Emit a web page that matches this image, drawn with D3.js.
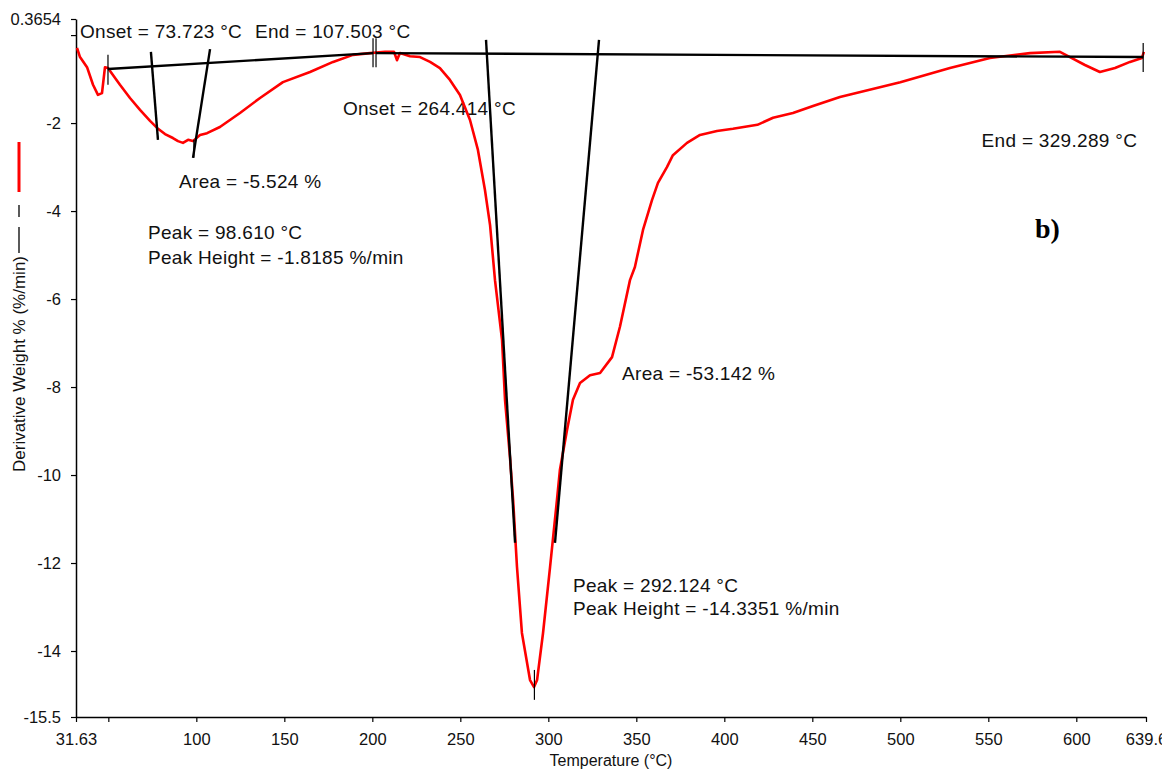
<!DOCTYPE html>
<html>
<head>
<meta charset="utf-8">
<script src="https://cdnjs.cloudflare.com/ajax/libs/d3/7.8.5/d3.min.js"></script>
<style>
body { margin: 0; background: #fff; }
svg { display: block; font-family: "Liberation Sans", Arial, sans-serif; }
</style>
</head>
<body>
<svg id="chart" width="1162" height="772"></svg>
<script>
// DTG curve: temperature (°C) and derivative weight (%/min)
var tempC = [32.2, 33.9, 37.9, 41.3, 44.1, 46.4, 48.1, 49.8, 52.1, 56.6, 62.3, 68.0, 73.7, 77.7, 82.2,
    86.7, 89.6, 92.4, 95.3, 98.1, 102.1, 106.1, 113.4, 124.8, 136.2, 149.2, 164.6, 177.7, 189.0, 198.7,
    207.2, 212.3, 214.0, 215.7, 221.4, 227.1, 232.8, 238.4, 244.1, 249.8, 255.5, 260.0, 264.0, 266.9,
    269.7, 273.7, 275.4, 278.2, 280.0, 282.2, 285.0, 289.6, 291.9, 293.6, 297.0, 301.0, 304.9, 306.6,
    310.6, 314.0, 318.0, 323.7, 329.4, 336.2, 340.7, 346.4, 349.2, 353.8, 358.9, 362.3, 367.4, 370.8,
    378.8, 386.2, 395.8, 404.9, 418.8, 427.7, 439.0, 450.4, 465.7, 500.0, 528.2, 550.9, 573.7, 590.7,
    596.4, 604.9, 613.4, 622.0, 630.5, 637.3, 638.4];
var derivW = [-0.29, -0.50, -0.73, -1.13, -1.36, -1.32, -0.73, -0.75, -0.88, -1.13, -1.43, -1.70, -1.95, -2.11, -2.25,
    -2.34, -2.41, -2.45, -2.38, -2.41, -2.27, -2.23, -2.09, -1.77, -1.43, -1.07, -0.84, -0.61, -0.45, -0.41,
    -0.38, -0.38, -0.57, -0.41, -0.48, -0.50, -0.61, -0.75, -1.02, -1.36, -1.93, -2.61, -3.52, -4.32,
    -5.57, -6.93, -8.29, -9.59, -10.57, -12.09, -13.59, -14.66, -14.82, -14.66, -13.59, -12.09, -10.57, -9.88,
    -8.98, -8.29, -7.91, -7.73, -7.68, -7.32, -6.63, -5.57, -5.27, -4.43, -3.75, -3.36, -3.00, -2.73,
    -2.45, -2.27, -2.18, -2.13, -2.04, -1.88, -1.77, -1.61, -1.41, -1.07, -0.75, -0.52, -0.41, -0.38,
    -0.50, -0.68, -0.84, -0.75, -0.61, -0.52, -0.38];

// integration baselines and tangent lines [temp, value]
var baseline1 = [[49.8, -0.77], [200.4, -0.41]];
var baseline2 = [[202.1, -0.41], [638.0, -0.50]];
var onsetTangent1 = [[74.2, -0.38], [78.2, -2.38]];
var endTangent1 = [[107.8, -0.32], [98.1, -2.79]];
var onsetTangent2 = [[264.6, -0.11], [281.1, -11.54]];
var endTangent2 = [[328.8, -0.11], [303.8, -11.54]];

// small vertical markers: temp, top value, bottom value
var markerTemp = [49.8, 200.4, 202.1, 98.6, 292.1, 638.0];
var markerTop = [-0.45, -0.07, -0.07, -2.38, -14.43, -0.18];
var markerBottom = [-1.13, -0.73, -0.73, -2.79, -15.11, -0.84];

// annotation texts with their anchor in data units
var noteText = ["Onset = 73.723 °C", "End = 107.503 °C", "Onset = 264.414 °C", "Area = -5.524 %",
    "Peak = 98.610 °C", "Peak Height = -1.8185 %/min", "Area = -53.142 %", "Peak = 292.124 °C",
    "Peak Height = -14.3351 %/min", "End = 329.289 °C"];
var noteTemp = [33.9, 133.3, 183.3, 90.2, 72.5, 72.5, 341.9, 314.0, 314.0, 546.2];
var noteVal = [-0.07, -0.07, -1.82, -3.48, -4.63, -5.20, -7.84, -12.65, -13.18, -2.54];

var xTicks = [31.63, 50, 100, 150, 200, 250, 300, 350, 400, 450, 500, 550, 600, 639.6];
var xTickLabels = ["31.63", "", "100", "150", "200", "250", "300", "350", "400", "450", "500", "550", "600", "639.6"];
var yTicks = [0.3654, 0, -2, -4, -6, -8, -10, -12, -14, -15.5];
var yTickLabels = ["0.3654", "", "-2", "-4", "-6", "-8", "-10", "-12", "-14", "-15.5"];

var svg = d3.select("#chart");

var x = d3.scaleLinear().domain([31.63, 639.6]).range([76, 1146]);
var y = d3.scaleLinear().domain([0.3654, -15.5]).range([19, 717]);

// axes
var xAxis = d3.axisBottom(x).tickValues(xTicks)
    .tickFormat(function (d, i) { return xTickLabels[i]; })
    .tickSize(5).tickSizeOuter(0).tickPadding(11);
var yAxis = d3.axisLeft(y).tickValues(yTicks)
    .tickFormat(function (d, i) { return yTickLabels[i]; })
    .tickSize(5).tickSizeOuter(0).tickPadding(10);

var gx = svg.append("g").attr("transform", "translate(0," + y(-15.5) + ")").call(xAxis);
var gy = svg.append("g").attr("transform", "translate(" + x(31.63) + ",0)").call(yAxis);
[gx, gy].forEach(function (g) {
    g.select(".domain").attr("stroke", "#000").attr("stroke-width", 1.5);
    g.selectAll(".tick line").attr("stroke", "#000").attr("stroke-width", 1.2);
    g.selectAll(".tick text").attr("fill", "#111").style("font-size", "16.5px")
        .style("font-family", "'Liberation Sans', Arial, sans-serif");
});

// axis titles
svg.append("text").attr("x", (x.range()[0] + x.range()[1]) / 2).attr("y", 766)
    .attr("text-anchor", "middle").style("font-size", "16px").attr("fill", "#111")
    .text("Temperature (°C)");
svg.append("text").attr("transform", "translate(25,364) rotate(-90)")
    .attr("text-anchor", "middle").style("font-size", "17px").attr("fill", "#111")
    .text("Derivative Weight % (%/min)");

// legend marks beside the y title
svg.append("line").attr("x1", 19).attr("x2", 19).attr("y1", 142).attr("y2", 192)
    .attr("stroke", "#ff0000").attr("stroke-width", 3);
svg.append("line").attr("x1", 19).attr("x2", 19).attr("y1", 205).attr("y2", 217)
    .attr("stroke", "#000").attr("stroke-width", 1.3);
svg.append("line").attr("x1", 19).attr("x2", 19).attr("y1", 227).attr("y2", 253)
    .attr("stroke", "#000").attr("stroke-width", 1.3);

// annotations
svg.append("g").selectAll("text").data(noteText).enter().append("text")
    .attr("x", function (d, i) { return x(noteTemp[i]); })
    .attr("y", function (d, i) { return y(noteVal[i]); })
    .style("font-size", "19px").style("letter-spacing", "0.3px").attr("fill", "#111")
    .text(function (d) { return d; });

svg.append("text").attr("x", x(576.5)).attr("y", y(-4.61))
    .style("font-family", "'Liberation Serif', 'Times New Roman', serif")
    .style("font-size", "28px").style("font-weight", "bold").attr("fill", "#000")
    .text("b)");

// curve
var curve = tempC.map(function (t, i) { return [t, derivW[i]]; });
var line = d3.line().x(function (d) { return x(d[0]); }).y(function (d) { return y(d[1]); });

svg.append("path").datum(curve).attr("d", line)
    .attr("fill", "none").attr("stroke", "#ff0000").attr("stroke-width", 2.6)
    .attr("stroke-linejoin", "round");

// baselines + tangents
[baseline1, baseline2, onsetTangent1, endTangent1, onsetTangent2, endTangent2].forEach(function (seg) {
    svg.append("path").datum(seg).attr("d", line)
        .attr("fill", "none").attr("stroke", "#000").attr("stroke-width", 2.4);
});

svg.append("g").selectAll("line").data(markerTemp).enter().append("line")
    .attr("x1", function (d) { return x(d); })
    .attr("x2", function (d) { return x(d); })
    .attr("y1", function (d, i) { return y(markerTop[i]); })
    .attr("y2", function (d, i) { return y(markerBottom[i]); })
    .attr("stroke", "#000").attr("stroke-width", 1.2);
</script>
</body>
</html>
